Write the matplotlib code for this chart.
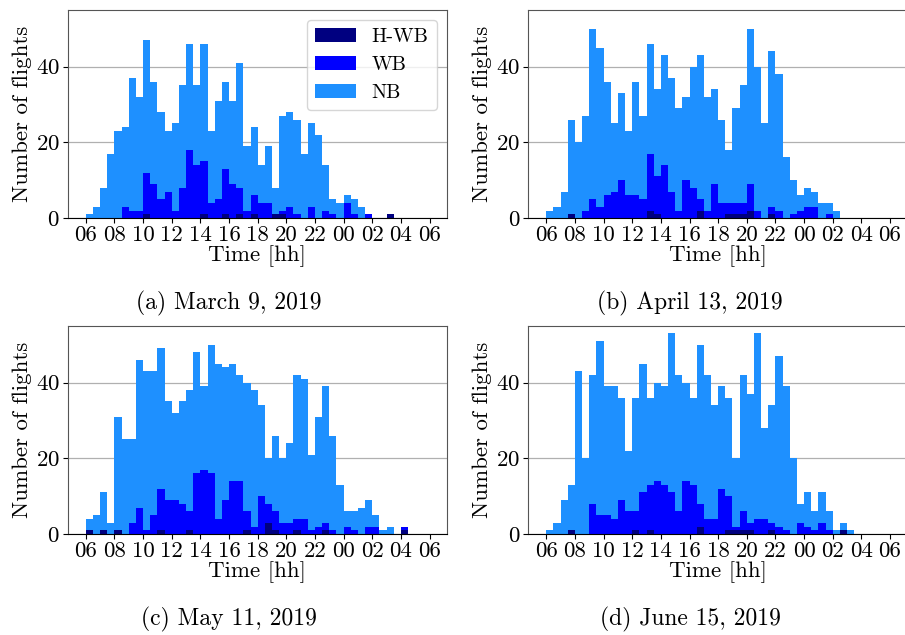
import numpy as np
import matplotlib
matplotlib.use('Agg')
import matplotlib.pyplot as plt

plt.rcParams['font.family'] = ['cmr10', 'DejaVu Serif']
plt.rcParams['mathtext.fontset'] = 'cm'
plt.rcParams['axes.formatter.use_mathtext'] = True

# 48 half-hour bins starting at 06:00
hour_labels = ['06', '08', '10', '12', '14', '16', '18', '20', '22', '00', '02', '04', '06']
captions = ['(a) March 9, 2019', '(b) April 13, 2019', '(c) May 11, 2019', '(d) June 15, 2019']


def full(d):
    v = [0] * 48
    for k, n in d.items():
        v[k] = n
    return v


# panel (a)
nb_a = [1, 3, 8, 17, 23, 24, 37, 32, 47, 36, 28, 23, 25, 35, 46, 35, 46, 23, 31, 36, 31, 41, 19, 24,
        14, 19, 8, 27, 28, 26, 17, 25, 22, 14, 5, 4, 6, 5, 3, 1, 0, 0, 1, 0, 0, 0, 0, 0]
wb_a = [0, 0, 0, 0, 0, 3, 2, 2, 12, 9, 5, 7, 2, 8, 18, 14, 15, 4, 5, 13, 9, 8, 2, 6,
        4, 4, 1, 2, 3, 1, 0, 3, 0, 2, 1, 0, 4, 1, 0, 1, 0, 0, 0, 0, 0, 0, 0, 0]
hwb_a = full({8: 1, 16: 1, 19: 1, 21: 1, 23: 1, 26: 1, 27: 1, 42: 1})

# panel (b)
nb_b = [2, 3, 7, 26, 20, 27, 50, 45, 36, 25, 33, 23, 36, 27, 46, 34, 43, 37, 29, 32, 40, 43, 32, 34,
        26, 18, 29, 35, 50, 40, 25, 44, 38, 16, 10, 6, 8, 7, 4, 4, 2, 0, 0, 0, 0, 0, 0, 0]
wb_b = [0, 0, 0, 0, 0, 2, 5, 3, 6, 7, 10, 6, 6, 5, 17, 11, 14, 7, 2, 10, 8, 5, 2, 9,
        4, 4, 4, 4, 9, 2, 0, 3, 2, 0, 1, 2, 3, 3, 0, 1, 0, 0, 0, 0, 0, 0, 0, 0]
hwb_b = full({3: 1, 14: 2, 15: 1, 21: 2, 25: 1, 26: 1, 27: 1, 28: 2, 31: 1})

# panel (c)
nb_c = [4, 5, 11, 3, 31, 25, 25, 46, 43, 43, 49, 35, 32, 35, 38, 48, 39, 50, 45, 44, 45, 42, 40, 38,
        34, 20, 26, 20, 24, 42, 41, 21, 31, 39, 26, 13, 6, 6, 7, 9, 5, 1, 2, 0, 2, 0, 0, 0]
wb_c = [1, 0, 1, 0, 1, 0, 3, 7, 1, 5, 12, 9, 9, 8, 6, 16, 17, 16, 4, 9, 14, 14, 6, 2,
        10, 8, 6, 3, 3, 4, 4, 1, 2, 3, 1, 0, 2, 1, 0, 2, 2, 0, 0, 0, 2, 0, 0, 0]
hwb_c = full({0: 1, 2: 1, 4: 1, 10: 1, 14: 1, 22: 1, 25: 3, 26: 1, 29: 1, 33: 1, 44: 1})

# panel (d)
nb_d = [1, 3, 9, 13, 43, 20, 42, 51, 39, 39, 36, 22, 36, 45, 36, 40, 39, 53, 42, 40, 36, 50, 42, 34,
        39, 36, 20, 42, 37, 53, 28, 34, 47, 39, 20, 8, 11, 6, 11, 6, 1, 3, 1, 0, 0, 0, 0, 0]
wb_d = [0, 0, 0, 0, 0, 0, 8, 5, 5, 4, 9, 6, 6, 11, 13, 14, 13, 11, 6, 14, 13, 8, 4, 4,
        12, 10, 2, 6, 3, 4, 4, 3, 2, 1, 0, 3, 2, 1, 3, 1, 0, 1, 0, 0, 0, 0, 0, 0]
hwb_d = full({3: 1, 12: 1, 14: 1, 21: 2, 25: 1, 26: 1, 27: 1, 28: 1, 31: 1, 41: 1})

panels = [(nb_a, wb_a, hwb_a), (nb_b, wb_b, hwb_b), (nb_c, wb_c, hwb_c), (nb_d, wb_d, hwb_d)]

fig = plt.figure(figsize=(9.05, 6.35), dpi=100)
W, H = 905, 635
# axes boxes in pixels: left, top
boxes = [(67.5, 9.7), (528, 9.7), (67.5, 325.7), (528, 325.7)]
aw, ah = 379.2, 208.4
cap_pos = [(229, 309), (690, 309), (229, 625), (690, 625)]

edges = np.arange(48) * 0.5
fs = 16.5

for i, (nb, wb, hwb) in enumerate(panels):
    l, t = boxes[i]
    ax = fig.add_axes([l / W, 1 - (t + ah) / H, aw / W, ah / H])
    ax.set_axisbelow(True)
    ax.grid(axis='y', color='#b0b0b0', linewidth=0.9)
    ax.bar(edges, nb, width=0.5, align='edge', color='dodgerblue', linewidth=0, label='NB')
    ax.bar(edges, wb, width=0.5, align='edge', color='blue', linewidth=0, label='WB')
    ax.bar(edges, hwb, width=0.5, align='edge', color='navy', linewidth=0, label='H-WB')
    ax.set_xlim(-1.28, 25.2)
    ax.set_ylim(0, 55)
    ax.set_xticks(np.arange(0, 25, 2))
    ax.set_xticklabels(hour_labels)
    ax.set_yticks([0, 20, 40])
    ax.tick_params(labelsize=fs, pad=2)
    for s in ['top', 'right', 'left']:
        ax.spines[s].set_color('#555555')
    ax.spines['bottom'].set_color('black')
    ax.set_xlabel('Time [hh]', fontsize=fs, labelpad=0)
    ax.set_ylabel('Number of flights', fontsize=fs, labelpad=3)
    if i == 0:
        h, lb = ax.get_legend_handles_labels()
        ax.legend(h[::-1], lb[::-1], loc='upper right', fontsize=14.5, borderaxespad=0.5)
    fig.text(cap_pos[i][0] / W, 1 - cap_pos[i][1] / H, captions[i], ha='center', va='baseline', fontsize=17)

plt.savefig('out.png', dpi=100)
